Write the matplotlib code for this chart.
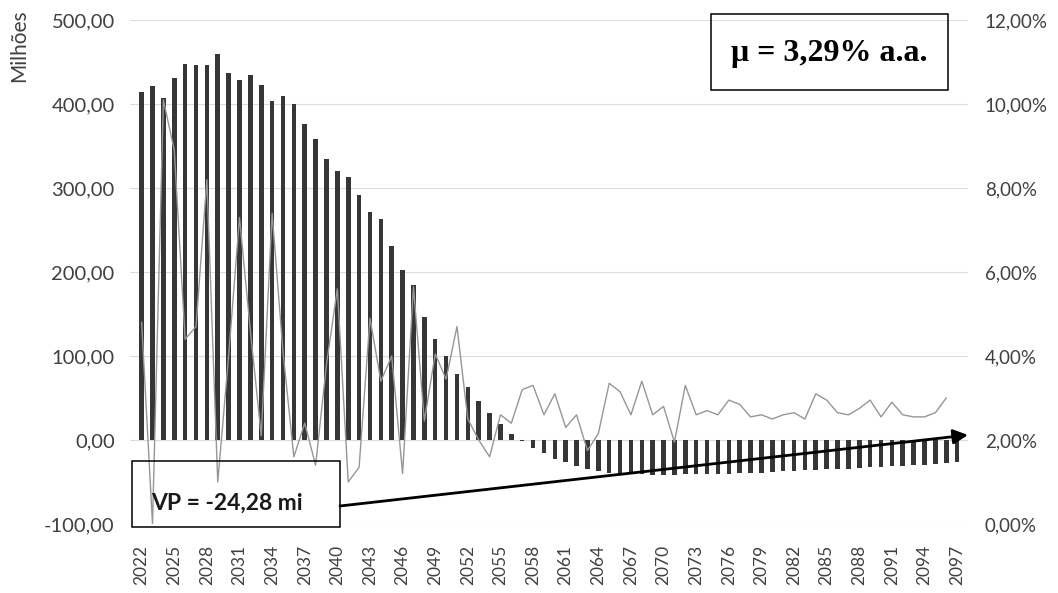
import numpy as np
import matplotlib
matplotlib.use("Agg")
import matplotlib.pyplot as plt
from matplotlib.ticker import FuncFormatter, MultipleLocator
from matplotlib.patches import Rectangle, FancyArrowPatch

#%% Data
years = list(range(2022, 2098))

# fluxo anual (milhões)
fluxo = [414, 421, 407, 431, 448, 447, 446, 459, 437, 429,
         435, 423, 404, 410, 400, 376, 358, 335, 320, 313,
         292, 272, 263, 231, 202, 184, 147, 120, 100, 78,
         63, 46, 32, 19, 7, -1, -9.5, -15.5, -22.6, -26.6,
         -31.3, -34.5, -37.3, -39.3, -40.5, -40.7, -41, -41.5, -41.5, -41.5,
         -41, -41, -40.5, -40.5, -40.5, -39.7, -39.4, -38.7, -38, -37.3,
         -36.9, -36.1, -35.7, -35, -34.5, -34.1, -33.3, -32.5, -31.7, -31.3,
         -30.5, -30.2, -29.4, -28.6, -27.8, -26.2]

# taxa anual (%) - eixo secundario
taxa = [4.8, 0.0, 10.1, 8.9, 4.4, 4.7, 8.2, 1.0, 4.0, 7.3,
        4.6, 2.1, 7.4, 4.1, 1.6, 2.4, 1.4, 3.8, 5.6, 1.0,
        1.35, 4.9, 3.4, 4.0, 1.2, 5.65, 2.45, 4.05, 3.45, 4.7,
        2.5, 2.0, 1.6, 2.6, 2.4, 3.2, 3.3, 2.6, 3.1, 2.3,
        2.6, 1.75, 2.15, 3.35, 3.15, 2.6, 3.4, 2.6, 2.8, 1.95,
        3.3, 2.6, 2.7, 2.6, 2.95, 2.85, 2.55, 2.6, 2.5, 2.6,
        2.65, 2.5, 3.1, 2.95, 2.65, 2.6, 2.75, 2.95, 2.55, 2.9,
        2.6, 2.55, 2.55, 2.65, 3.0, np.nan]

year_ticks = years[::3]
vp_text = "VP = -24,28 mi"
mu_text = "\u03bc = 3,29% a.a."

#%% Figure
W, H = 1058, 593
fig = plt.figure(figsize=(W / 100, H / 100), dpi=100)


def fp(x, y):
    # pixel (from top-left) -> figure fraction
    return x / W, 1 - y / H


left, right, top, bottom = 130, 968, 20, 524
ax = fig.add_axes([left / W, 1 - bottom / H, (right - left) / W, (bottom - top) / H])
ax2 = ax.twinx()

ax.bar(years, fluxo, width=0.42, color="#363636", zorder=2)
ax2.plot(years, taxa, color="#969696", lw=1.0)

ax.set_xlim(2020.93, 2098.0)
ax.set_ylim(-100, 500)
ax2.set_ylim(0, 12)
ax.yaxis.set_major_locator(MultipleLocator(100))
ax2.yaxis.set_major_locator(MultipleLocator(2))

ax.set_axisbelow(True)
ax.grid(axis="y", color="#dcdcdc", lw=0.8)

ax.yaxis.set_major_formatter(FuncFormatter(lambda v, p: f"{v:.2f}".replace(".", ",")))
ax2.yaxis.set_major_formatter(FuncFormatter(lambda v, p: f"{v:.2f}%".replace(".", ",")))

ax.set_xticks(year_ticks)
ax.set_xticklabels([str(y) for y in year_ticks], rotation=90)

for a in (ax, ax2):
    for s in a.spines.values():
        s.set_visible(False)
    a.tick_params(length=0, colors="#404040")

ax.tick_params(axis="y", labelsize=14.5, pad=11)
ax.tick_params(axis="x", labelsize=12.5, pad=15)
ax2.tick_params(axis="y", labelsize=13.5, pad=12)
for lab in ax.get_xticklabels() + ax.get_yticklabels() + ax2.get_yticklabels():
    lab.set_fontfamily("Lato")

fig.text(*fp(19, 46), "Milhões", rotation=90, ha="center", va="center",
         fontsize=15, family="Lato", color="#404040")

# caixa mu
x0, y0 = fp(711, 90)
x1, y1 = fp(948, 14)
fig.add_artist(Rectangle((x0, y0), x1 - x0, y1 - y0, transform=fig.transFigure,
                         fill=False, ec="black", lw=1.1))
fig.text(*fp(829, 53), mu_text, ha="center", va="center", fontsize=23,
         family="Liberation Serif", weight="bold")

# caixa VP
x0, y0 = fp(132, 527)
x1, y1 = fp(340, 461)
fig.add_artist(Rectangle((x0, y0), x1 - x0, y1 - y0, transform=fig.transFigure,
                         fill=False, ec="black", lw=1.1))
fig.text(*fp(151, 503), vp_text, ha="left", va="center", fontsize=16.5,
         family="Lato", weight="bold", color="#1a1a1a")

# seta
fig.add_artist(FancyArrowPatch(fp(340, 506), fp(968, 435), transform=fig.transFigure,
                               arrowstyle="-|>", mutation_scale=22, lw=2,
                               color="black", shrinkA=0, shrinkB=0))

fig.savefig("out.png", dpi=100)
